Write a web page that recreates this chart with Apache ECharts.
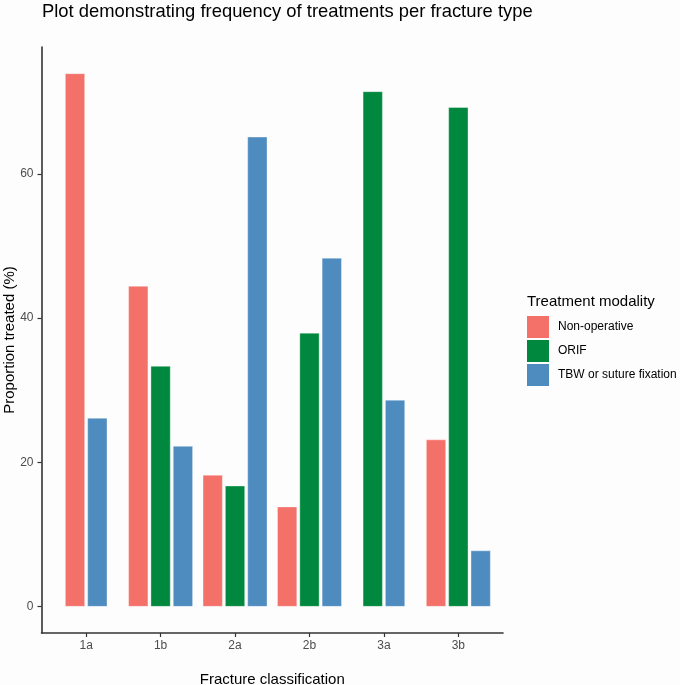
<!DOCTYPE html>
<html>
<head>
<meta charset="utf-8">
<script src="https://cdn.jsdelivr.net/npm/echarts@6/dist/echarts.min.js"></script>
<style>
  html, body { margin: 0; padding: 0; background: #fdfdfd; }
  #chart { width: 680px; height: 685px; }
</style>
</head>
<body>
<div id="chart"></div>
<script>
// ---- data ----
const categories = ['1a', '1b', '2a', '2b', '3a', '3b'];
const seriesNames = ['Non-operative', 'ORIF', 'TBW or suture fixation'];
const nonOperative = [73.9, 44.4, 18.2, 13.8, null, 23.1];
const orif         = [null, 33.3, 16.7, 37.9, 71.4, 69.2];
const tbwSuture    = [26.1, 22.2, 65.1, 48.3, 28.6, 7.7];
const yTicks = [0, 20, 40, 60];
const colors = ['#F4716A', '#00893E', '#4E8BBF'];

const seriesValues = [nonOperative, orif, tbwSuture];
const BAR_W = 0.3;

const allVals = [].concat(...seriesValues).filter(v => v != null);
const dataMax = Math.max(...allVals);
const yPad = 0.05 * dataMax;

function makeRender(sIdx) {
  return function (params, api) {
    const ci = api.value(0);
    const v = api.value(1);
    const present = [];
    seriesValues.forEach((arr, k) => { if (arr[ci] != null) present.push(k); });
    const n = present.length;
    const r = present.indexOf(sIdx);
    const off = (r - (n - 1) / 2) * BAR_W;
    const pTop = api.coord([ci + off - BAR_W / 2, v]);
    const pBot = api.coord([ci + off + BAR_W / 2, 0]);
    return {
      type: 'rect',
      shape: { x: pTop[0] + 1.5, y: pTop[1], width: pBot[0] - pTop[0] - 3, height: pBot[1] - pTop[1] },
      style: { fill: api.visual('color'), stroke: 'rgba(255,255,255,0.35)', lineWidth: 1 }
    };
  };
}

const series = seriesNames.map((name, s) => ({
  name: name,
  type: 'custom',
  renderItem: makeRender(s),
  itemStyle: { color: colors[s] },
  encode: { x: 0, y: 1 },
  data: seriesValues[s].map((v, i) => v == null ? null : [i, v]).filter(d => d)
}));

const FONT = '"Liberation Sans", Arial, sans-serif';
const chart = echarts.init(document.getElementById('chart'), null, { renderer: 'canvas' });
chart.setOption({
  backgroundColor: '#fdfdfd',
  animation: false,
  textStyle: { fontFamily: FONT },
  title: [
    {
      text: 'Plot demonstrating frequency of treatments per fracture type',
      left: 42, top: 3, padding: 0,
      textStyle: { fontFamily: FONT, fontSize: 18.4, fontWeight: 'normal', color: '#000' }
    },
    {
      text: 'Treatment modality',
      left: 527, top: 294, padding: 0,
      textStyle: { fontFamily: FONT, fontSize: 15, fontWeight: 'normal', color: '#000' }
    }
  ],
  legend: {
    orient: 'vertical',
    left: 527, top: 316, padding: 0,
    itemWidth: 22, itemHeight: 22, itemGap: 2,
    icon: 'rect',
    data: seriesNames,
    textStyle: { fontFamily: FONT, fontSize: 12, color: '#000', padding: [0, 0, 0, 4] }
  },
  grid: { left: 41.5, right: 177, top: 47, bottom: 52, outerBoundsMode: 'none', containLabel: false },
  xAxis: {
    type: 'value',
    min: -0.6, max: 5.6,
    name: 'Fracture classification',
    nameLocation: 'middle', nameGap: 39, nameMoveOverlap: false,
    nameTextStyle: { fontFamily: FONT, fontSize: 15, color: '#000' },
    axisLine: { onZero: false, lineStyle: { color: '#333', width: 1.6 } },
    axisTick: { show: true, length: 4, customValues: categories.map((c, i) => i), lineStyle: { color: '#333', width: 1.2 } },
    axisLabel: {
      customValues: categories.map((c, i) => i),
      formatter: v => categories[Math.round(v)],
      margin: 7, fontSize: 12, color: '#4D4D4D', fontFamily: FONT
    },
    splitLine: { show: false }
  },
  yAxis: {
    type: 'value',
    min: -yPad, max: dataMax + yPad,
    name: 'Proportion treated (%)',
    nameLocation: 'middle', nameGap: 24, nameMoveOverlap: false,
    nameTextStyle: { fontFamily: FONT, fontSize: 15, color: '#000' },
    axisLine: { show: true, onZero: false, lineStyle: { color: '#333', width: 1.6 } },
    axisTick: { show: true, length: 4, customValues: yTicks, lineStyle: { color: '#333', width: 1.2 } },
    axisLabel: { customValues: yTicks, margin: 8, fontSize: 12, color: '#4D4D4D', fontFamily: FONT },
    splitLine: { show: false }
  },
  series: series
});
</script>
</body>
</html>
